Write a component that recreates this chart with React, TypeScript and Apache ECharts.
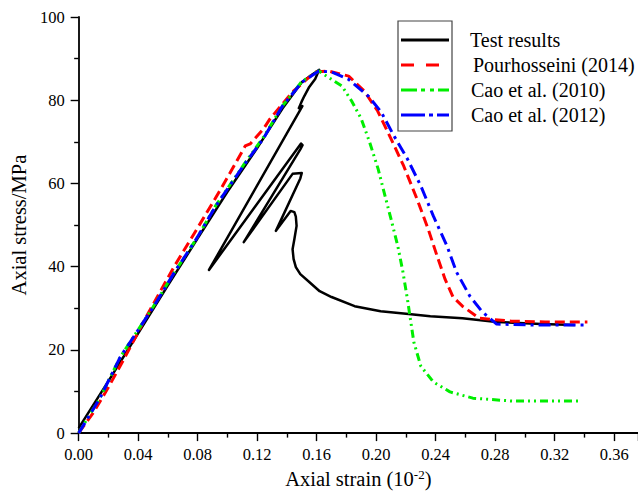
import React, { useEffect, useRef } from "react";
import * as echarts from "echarts";

// Axial strain (10^-2), axial stress (MPa)
const testResults: [number, number][] = [
  [0, 1.2], [0.02, 12.5], [0.04, 24], [0.06, 35.5], [0.08, 46.8], [0.1, 58],
  [0.12, 68.5], [0.137, 78], [0.15, 84.3], [0.157, 86.2], [0.1617, 87.3],
  [0.159, 85.1], [0.155, 83.2], [0.1517, 81], [0.1498, 79.6], [0.148, 78.1], [0.1504, 78.6],
  [0.0876, 39.2],
  [0.1495, 69.6], [0.1505, 69.2], [0.149, 68.2],
  [0.111, 45.9],
  [0.1438, 62.3], [0.150, 62.5], [0.149, 61.2],
  [0.1326, 48.6],
  [0.1425, 53.4], [0.145, 53.1], [0.146, 52], [0.1465, 49.8], [0.145, 46.6],
  [0.1438, 44.2], [0.1445, 41.8], [0.146, 39.9], [0.149, 38.2], [0.155, 36.3],
  [0.162, 34.1], [0.170, 32.7], [0.1855, 30.5], [0.203, 29.3], [0.2218, 28.6],
  [0.2364, 28.1], [0.258, 27.6], [0.281, 26.7], [0.311, 26.2], [0.3335, 26.0],
];

const pourhosseini2014: [number, number][] = [
  [0, 0], [0.01, 5], [0.02, 11], [0.03, 17.5], [0.0446, 27.4], [0.0557, 34.6],
  [0.0645, 40.2], [0.0823, 50.7], [0.0955, 58.6], [0.112, 69], [0.1153, 69.5],
  [0.124, 73], [0.1286, 75.5], [0.1438, 82], [0.159, 86.8], [0.168, 87],
  [0.1815, 85.8], [0.192, 82.2], [0.201, 77.4], [0.21, 70.7], [0.2185, 64.2],
  [0.2275, 56.2], [0.235, 49], [0.241, 42.5], [0.2463, 37], [0.2517, 32.7],
  [0.258, 30.5], [0.2694, 27.6], [0.291, 26.9], [0.3136, 26.7], [0.342, 26.7],
];

const cao2010: [number, number][] = [
  [0, 0], [0.0072, 4.3], [0.014, 8.2], [0.028, 18.3], [0.05, 30.3], [0.0645, 38.7],
  [0.079, 46.6], [0.092, 54.6], [0.111, 64.5], [0.124, 71], [0.137, 78.6],
  [0.15, 84.5], [0.1615, 87], [0.177, 83.4], [0.1835, 79.8], [0.19, 75.5],
  [0.1955, 70], [0.2013, 63.5], [0.2053, 57.9], [0.21, 51.4], [0.2145, 45],
  [0.218, 38.7], [0.221, 32.2], [0.2233, 26.7], [0.2253, 21.9], [0.23, 16.1],
  [0.2384, 12.3], [0.2496, 9.9], [0.265, 8.4], [0.2915, 7.7], [0.3375, 7.7],
];

const cao2012: [number, number][] = [
  [0, 0], [0.014, 8.2], [0.028, 18.3], [0.0502, 30.3], [0.0645, 38.7],
  [0.079, 46.6], [0.0922, 54.6], [0.1107, 64.2], [0.124, 70.7], [0.137, 78.6],
  [0.15, 84.3], [0.1615, 87], [0.170, 86.8], [0.1815, 85], [0.1947, 81],
  [0.2033, 77.2], [0.212, 71.4], [0.221, 65.9], [0.23, 59.4], [0.2384, 52.2],
  [0.2476, 45], [0.254, 38.7], [0.263, 32.9], [0.2714, 29.1], [0.281, 26.2],
  [0.3025, 26], [0.341, 26],
];

const seriesNames = ["Test results", "Pourhosseini (2014)", "Cao et al. (2010)", "Cao et al. (2012)"];
const seriesColors = ["#000000", "#ff0000", "#00ee00", "#0000ff"];

const FONT = "'Liberation Serif', 'Times New Roman', serif";

export default function App() {
  const ref = useRef<HTMLDivElement>(null);
  useEffect(() => {
    document.body.style.margin = "0";
    if (!ref.current) return;
    const chart = echarts.init(ref.current, null, { renderer: "svg" });
    const dashes: any[] = ["solid", [10, 5], [8, 4, 2, 4, 2, 4], [12, 5, 3, 5]];
    const datas = [testResults, pourhosseini2014, cao2010, cao2012];
    const widths = [2.5, 3, 3, 3];
    const legendDashes: any[] = [null, [13, 12], [16, 4, 4, 5, 4, 4], [24, 4, 4, 4]];
    const rowY = [40, 65, 90, 115];
    const textX = [470, 473, 471, 471];

    const legendGraphics: any[] = [
      {
        type: "rect",
        shape: { x: 398, y: 21, width: 54, height: 110 },
        style: { fill: "#fff", stroke: "#444", lineWidth: 1.2 },
        z: 100,
      },
    ];
    seriesNames.forEach((name, i) => {
      legendGraphics.push({
        type: "line",
        shape: { x1: 401, y1: rowY[i], x2: 449, y2: rowY[i] },
        style: {
          stroke: seriesColors[i],
          lineWidth: 3,
          lineDash: legendDashes[i] || undefined,
        },
        z: 101,
      });
      legendGraphics.push({
        type: "text",
        x: textX[i],
        y: rowY[i],
        style: {
          text: name,
          fill: "#000",
          fontSize: 20,
          fontFamily: FONT,
          verticalAlign: "middle",
          align: "left",
        },
        z: 101,
      });
    });

    chart.setOption({
      animation: false,
      backgroundColor: "#fff",
      textStyle: { fontFamily: FONT },
      grid: { left: 72.7, top: 17, bottom: 60.5, right: -3.2 },
      xAxis: {
        type: "value",
        min: 0,
        max: 0.376,
        interval: 0.04,
        name: "Axial strain (10{sup|-2})",
        nameLocation: "middle",
        nameGap: 34,
        nameTextStyle: {
          color: "#000",
          fontSize: 20.5,
          fontFamily: FONT,
          rich: { sup: { fontSize: 13, verticalAlign: "top", padding: [0, 0, 8, 0], fontFamily: FONT } },
        },
        axisLine: { lineStyle: { color: "#000", width: 1.8 } },
        axisTick: { inside: false, length: 8, lineStyle: { color: "#000", width: 1.4 } },
        minorTick: { show: true, splitNumber: 2, length: 4.5, lineStyle: { color: "#000", width: 1.4 } },
        axisLabel: {
          color: "#000",
          fontSize: 16.5,
          fontFamily: FONT,
          margin: 13,
          showMaxLabel: false,
          formatter: (v: number) => v.toFixed(2),
        },
        splitLine: { show: false },
      },
      yAxis: {
        type: "value",
        min: 0,
        max: 100,
        interval: 20,
        name: "Axial stress/MPa",
        nameLocation: "middle",
        nameGap: 40,
        nameTextStyle: { color: "#000", fontSize: 20.5, fontFamily: FONT },
        axisLine: { show: true, lineStyle: { color: "#000", width: 1.8 } },
        axisTick: { show: true, inside: false, length: 8, lineStyle: { color: "#000", width: 1.4 } },
        minorTick: { show: true, splitNumber: 2, length: 4.5, lineStyle: { color: "#000", width: 1.4 } },
        axisLabel: { color: "#000", fontSize: 16.5, fontFamily: FONT, margin: 14 },
        splitLine: { show: false },
      },
      series: seriesNames.map((name, i) => ({
        name,
        type: "line",
        data: datas[i],
        symbol: "none",
        smooth: false,
        clip: true,
        lineStyle: { color: seriesColors[i], width: widths[i], type: dashes[i], cap: "butt", join: "round" },
        z: 2 + i,
      })),
      graphic: legendGraphics,
    });
    return () => chart.dispose();
  }, []);
  return <div ref={ref} style={{ width: 638, height: 494 }} />;
}
